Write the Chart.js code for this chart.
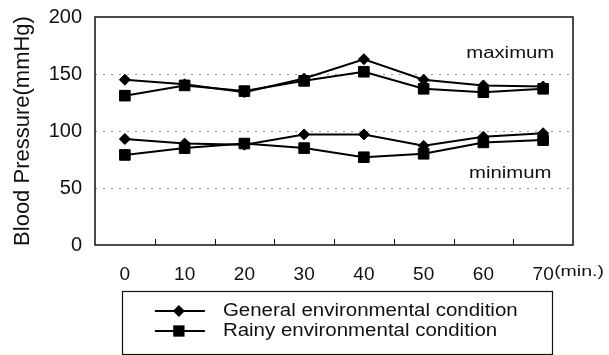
<!DOCTYPE html>
<html>
<head>
<meta charset="utf-8">
<script src="https://cdn.jsdelivr.net/npm/chart.js@4/dist/chart.umd.min.js"></script>
<style>
  html, body { margin: 0; padding: 0; background: #fff; }
  #bp { display: block; }
</style>
</head>
<body>
<canvas id="bp" width="609" height="355"></canvas>
<script>
// time after start (min.)
var minutes = ['0', '10', '20', '30', '40', '50', '60', '70'];
// maximum blood pressure
var generalMax = [145, 141, 134, 146, 163, 145, 140, 139];
var rainyMax = [131, 140, 135, 144, 152, 137, 134, 137];
// minimum blood pressure
var generalMin = [93, 89, 88, 97, 97, 87, 95, 98];
var rainyMin = [79, 85, 89, 85, 77, 80, 90, 92];
var yTicks = [0, 50, 100, 150, 200];

var generalName = 'General environmental condition';
var rainyName = 'Rainy environmental condition';

var FONT = "'Liberation Sans', Arial, sans-serif";

function series(label, data, style, radius) {
    return {
        label: label,
        data: data,
        borderColor: '#000',
        backgroundColor: '#000',
        borderWidth: 2,
        pointStyle: style,
        pointRadius: radius,
        pointBorderWidth: 1,
        pointHoverRadius: radius,
        tension: 0,
        fill: false
    }
}

// wide-looking text like the scanned figure
function wideText(ctx, text, x, y, size, sx, align) {
    ctx.save();
    ctx.font = size + 'px ' + FONT;
    ctx.fillStyle = '#111';
    ctx.textBaseline = 'middle';
    ctx.textAlign = 'left';
    var w = ctx.measureText(text).width * sx;
    var x0 = align == 'center' ? x - w / 2 : x;
    ctx.translate(x0, y);
    ctx.scale(sx, 1);
    ctx.fillText(text, 0, 0);
    ctx.restore();
}

function marker(ctx, style, x, y, r) {
    ctx.beginPath();
    if (style == 'rectRot') {
        ctx.moveTo(x, y - r);
        ctx.lineTo(x + r, y);
        ctx.lineTo(x, y + r);
        ctx.lineTo(x - r, y);
    } else {
        var s = r * Math.SQRT1_2;
        ctx.rect(x - s, y - s, 2 * s, 2 * s);
    }
    ctx.closePath();
    ctx.fill();
}

var decor = {
    id: 'decor',
    afterDatasetsDraw(chart) {
        var ctx = chart.ctx;
        var a = chart.chartArea;
        var x = chart.scales.x;
        var y = chart.scales.y;
        ctx.save();
        // frame
        ctx.strokeStyle = '#111';
        ctx.lineWidth = 1.5;
        ctx.strokeRect(a.left, a.top, a.right - a.left, a.bottom - a.top);
        // inner tick marks between categories
        ctx.lineWidth = 1;
        ctx.beginPath();
        for (var i = 0; i < minutes.length - 1; i++) {
            var tx = Math.round((x.getPixelForValue(i) + x.getPixelForValue(i + 1)) / 2) + 0.5;
            ctx.moveTo(tx, a.bottom);
            ctx.lineTo(tx, a.bottom - 6);
        }
        ctx.stroke();
        ctx.restore();

        // annotations
        wideText(ctx, 'maximum', x.getPixelForValue(6.45), y.getPixelForValue(168), 16, 1.27, 'center');
        wideText(ctx, 'minimum', x.getPixelForValue(6.45), y.getPixelForValue(63), 16, 1.27, 'center');
        var last = x.getPixelForValue(minutes.length - 1);
        wideText(ctx, '(min.)', last + 11, a.bottom + 27, 15, 1.3, 'left');

        // legend box
        var ds = chart.data.datasets;
        var entries = [ds[0], ds[1]];
        var lx = x.getPixelForValue(0) - 3;
        var lr = last + 9;
        var top = a.bottom + 46;
        ctx.save();
        ctx.strokeStyle = '#111';
        ctx.lineWidth = 1.2;
        ctx.strokeRect(Math.round(lx) + 0.5, top + 0.5, Math.round(lr - lx), 63);
        entries.forEach(function (d, k) {
            var ry = top + 20 + k * 20;
            ctx.strokeStyle = '#000';
            ctx.fillStyle = '#000';
            ctx.lineWidth = 2;
            ctx.beginPath();
            ctx.moveTo(lx + 33, ry);
            ctx.lineTo(lx + 83, ry);
            ctx.stroke();
            marker(ctx, d.pointStyle, lx + 57, ry, d.pointRadius + 0.5);
            wideText(ctx, d.label, lx + 101, ry, 17.5, 1.17, 'left');
        });
        ctx.restore();
    }
};

var ctx = document.getElementById('bp').getContext('2d');
new Chart(ctx, {
    type: 'line',
    data: {
        labels: minutes,
        datasets: [
            series(generalName, generalMax, 'rectRot', 5.5),
            series(rainyName, rainyMax, 'rect', 7.5),
            series(generalName, generalMin, 'rectRot', 5.5),
            series(rainyName, rainyMin, 'rect', 7.5)
        ]
    },
    plugins: [decor],
    options: {
        responsive: false,
        animation: false,
        layout: { padding: { left: 0, right: 36, top: 17, bottom: 0 } },
        plugins: {
            legend: { display: false },
            tooltip: { enabled: false }
        },
        scales: {
            x: {
                offset: true,
                grid: { display: false, drawTicks: false },
                border: { display: false },
                ticks: {
                    color: '#111',
                    padding: 18,
                    maxRotation: 0,
                    font: { family: FONT, size: 19 }
                },
                afterFit: function (s) { s.height = 110; s.paddingLeft = 0; s.paddingRight = 0 }
            },
            y: {
                min: 0,
                max: 200,
                afterBuildTicks: function (s) {
                    s.ticks = yTicks.map(function (v) { return { value: v } })
                },
                grid: {
                    drawTicks: false,
                    color: function (c) {
                        var v = c.tick && c.tick.value;
                        return (v == 0 || v == 200) ? 'rgba(0,0,0,0)' : '#9a9a9a';
                    },
                    lineWidth: 1
                },
                border: { display: false, dash: [2, 6] },
                ticks: {
                    color: '#111',
                    padding: 13,
                    font: { family: FONT, size: 20 }
                },
                title: {
                    display: true,
                    text: 'Blood Pressure(mmHg)',
                    color: '#111',
                    padding: { top: 10, bottom: 0 },
                    font: { family: FONT, size: 22 }
                },
                afterFit: function (s) { s.width = 95; s.paddingTop = 0; s.paddingBottom = 0 }
            }
        }
    }
});
</script>
</body>
</html>
